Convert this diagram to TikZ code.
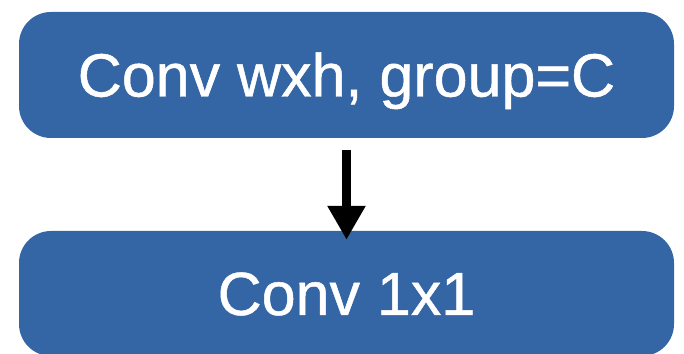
\documentclass[tikz,border=0pt]{standalone}
\usepackage{fontspec}
\setmainfont{Liberation Sans}
\newfontfamily\boxfont{Liberation Sans}[BoldFont=Liberation Sans, BoldFeatures={FakeBold=0.8}]
\usetikzlibrary{arrows.meta}
\definecolor{boxblue}{RGB}{52,101,164}
\tikzset{
  blockbox/.style={fill=boxblue, draw=none, rounded corners=32pt,
    minimum width=655pt, inner sep=0pt, text=white,
    font=\boxfont\bfseries\fontsize{61}{72}\selectfont, text height=43pt, text depth=0pt},
  flowarrow/.style={line width=9pt, -{Triangle[width=36pt,length=34pt]}}
}
\begin{document}
\begin{tikzpicture}[x=1pt,y=1pt]
\useasboundingbox (0,0) rectangle (684,353);
\node[blockbox, minimum height=126pt] (top) at (346.5,278) {Conv wxh, group=C};
\node[blockbox, minimum height=125pt] (bottom) at (346.5,59.5) {Conv 1x1};
\coordinate (astart) at ([yshift=-12pt]top.south);
\coordinate (aend) at ([yshift=-9pt]bottom.north);
\draw[flowarrow] (astart) -- (aend);
\end{tikzpicture}
\end{document}
